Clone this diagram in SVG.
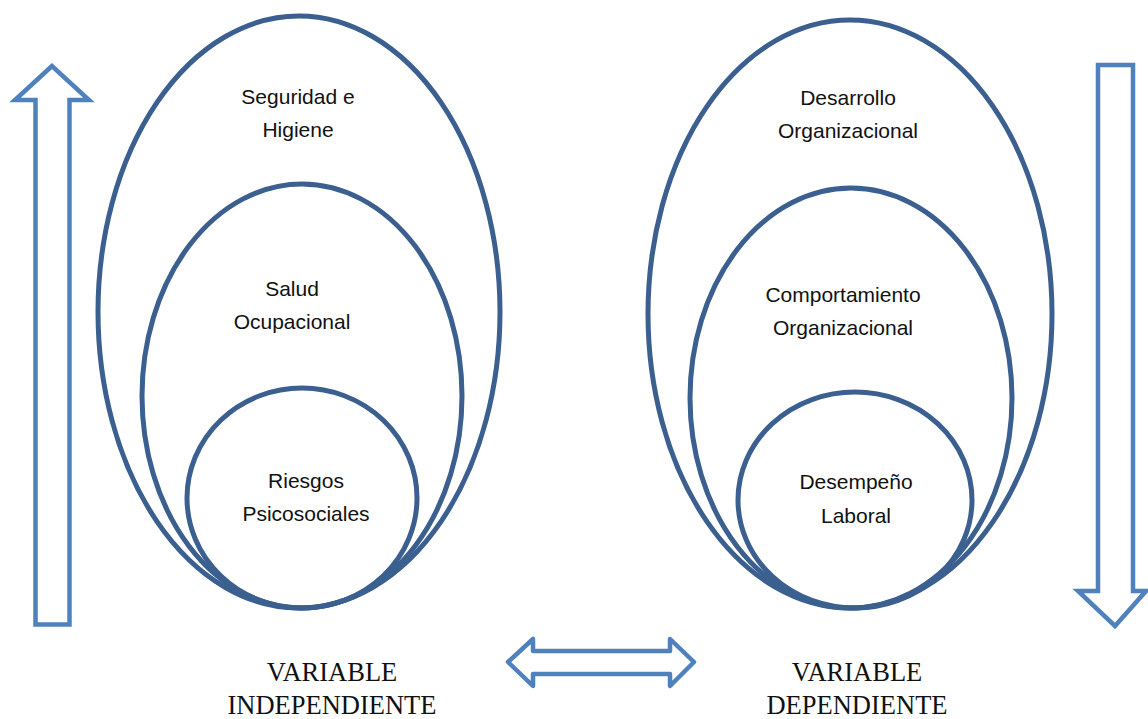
<svg xmlns="http://www.w3.org/2000/svg" width="1148" height="719" viewBox="0 0 1148 719">
<style>
.ring{fill:none;stroke:#3b6090;stroke-width:5}
.arr{fill:#fff;stroke:#4f81bd;stroke-width:4.5;stroke-linejoin:miter}
.lbl{font-family:"Liberation Sans",Arial,sans-serif;font-size:21px;fill:#111;text-anchor:middle}
.var{font-family:"Liberation Serif","Times New Roman",serif;font-size:26.5px;fill:#111;text-anchor:middle}
</style>
<rect width="1148" height="719" fill="#fff"/>
<g id="left-group">
<g id="seguridad"><ellipse class="ring" cx="299" cy="312" rx="201" ry="296"/>
<text class="lbl" x="298" y="104">Seguridad e</text><text class="lbl" x="298" y="137">Higiene</text></g>
<g id="salud"><ellipse class="ring" cx="302" cy="396" rx="160" ry="212"/>
<text class="lbl" x="292" y="296">Salud</text><text class="lbl" x="292" y="329">Ocupacional</text></g>
<g id="riesgos"><ellipse class="ring" cx="302" cy="498" rx="115" ry="110"/>
<text class="lbl" x="306" y="488">Riesgos</text><text class="lbl" x="306" y="521">Psicosociales</text></g>
</g>
<g id="right-group">
<g id="desarrollo"><ellipse class="ring" cx="850" cy="314" rx="202" ry="294"/>
<text class="lbl" x="848" y="105">Desarrollo</text><text class="lbl" x="848" y="138">Organizacional</text></g>
<g id="comportamiento"><ellipse class="ring" cx="851" cy="398" rx="161" ry="210"/>
<text class="lbl" x="843" y="302">Comportamiento</text><text class="lbl" x="843" y="335">Organizacional</text></g>
<g id="desempeno"><ellipse class="ring" cx="855" cy="500" rx="117" ry="108"/>
<text class="lbl" x="856" y="489">Desempeño</text><text class="lbl" x="856" y="523">Laboral</text></g>
</g>
<g id="connectors">
<polygon class="arr" points="52,66 15,100 35.5,100 35.5,624.5 69.5,624.5 69.5,100 89,100"/>
<polygon class="arr" points="1098,65 1133,65 1133,591 1146,591 1115,626 1078,591 1098,591"/>
<polygon class="arr" style="stroke-linejoin:round" points="508,662 533,639 533,651 670,651 670,639 694,662 670,686 670,674 533,674 533,686"/>
</g>
<g id="var-indep"><text class="var" x="332" y="681">VARIABLE</text><text class="var" x="332" y="714">INDEPENDIENTE</text></g>
<g id="var-dep"><text class="var" x="857" y="681">VARIABLE</text><text class="var" x="857" y="714">DEPENDIENTE</text></g>
</svg>
